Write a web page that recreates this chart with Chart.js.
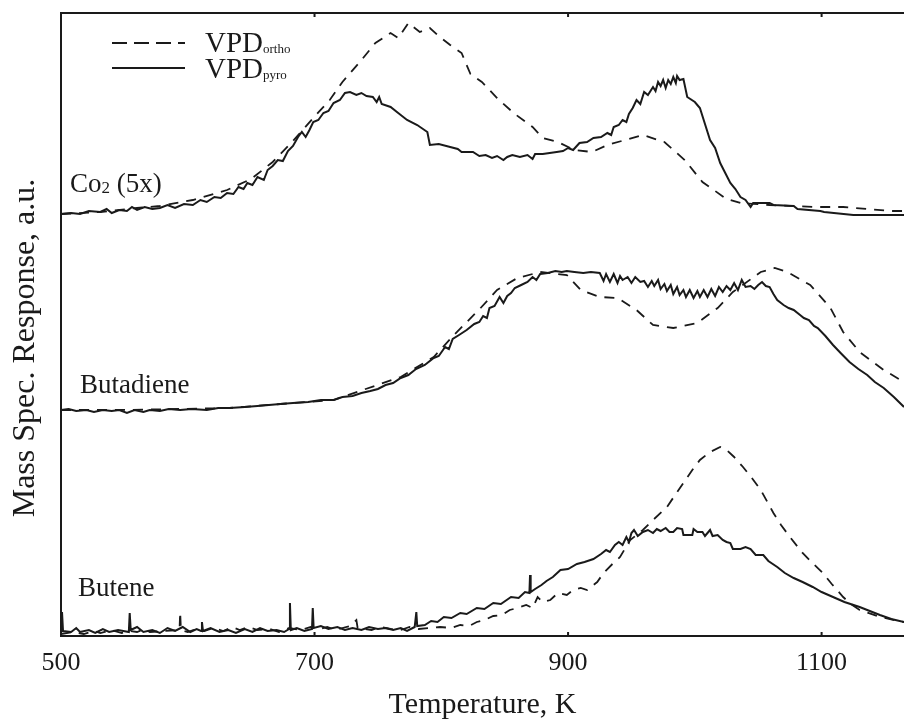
<!DOCTYPE html>
<html>
<head>
<meta charset="utf-8">
<title>Mass spec response vs temperature</title>
<script src="https://cdn.jsdelivr.net/npm/chart.js@4/dist/chart.umd.min.js"></script>
<style>
	html, body { margin: 0; padding: 0; background: #fff; }
	#tpdChart { display: block; }
</style>
</head>
<body>
<canvas id="tpdChart" width="904" height="719"></canvas>
<script>
//	Temperature axis, K
var tempMin = 500;
var tempMax = 1165;
var tempTicks = [500, 700, 900, 1100];

//	Traces: [temperature K, response a.u.]
//	CO2 (5x), shifted up
var co2Pyro = [[500,42.2],[508,42.3],[515,42.2],[522,42.5],[531,42.4],[536,42.7],[540,42.3],[546,42.6],[552,42.5],
	[556,42.9],[560,42.6],[566,42.9],[572,42.7],[578,42.8],[584,43.1],[590,42.8],[597,43.2],[604,43.1],[610,43.6],
	[615,43.4],[621,43.9],[626,43.8],[631,44.3],[636,44.2],[640,44.9],[644,44.7],[647,45.3],[651,45.1],[655,45.9],
	[660,45.6],[663,46.6],[667,47.0],[671,47.6],[675,47.5],[679,48.5],[683,49.0],[687,49.9],[690,50.4],[693,49.9],
	[696,50.6],[699,51.4],[703,51.6],[707,52.3],[711,52.5],[715,53.3],[720,53.6],[724,54.3],[728,54.4],[733,54.1],
	[737,54.3],[741,54.0],[746,53.9],[749,53.4],[751,53.9],[753,53.2],[760,52.9],[766,52.3],[773,51.6],[781,51.1],
	[789,50.4],[791,49.1],[798,49.2],[807,48.9],[813,48.7],[816,48.4],[825,48.4],[830,48.0],[835,48.1],[840,47.8],
	[844,48.0],[849,47.6],[852,47.9],[856,48.1],[862,47.9],[868,48.1],[872,47.7],[874,48.2],[880,48.2],[891,48.4],
	[896,48.5],[900,48.8],[904,48.6],[909,49.3],[915,49.4],[920,49.8],[926,49.9],[931,50.3],[934,50.1],[936,50.9],
	[940,51.1],[943,51.6],[946,51.4],[948,52.2],[951,52.8],[954,53.6],[957,53.2],[960,54.4],[963,54.1],[967,54.9],
	[969,54.5],[971,55.4],[973,55.0],[975,55.6],[977,54.8],[979,55.6],[981,55.2],[983,55.9],[985,55.3],[986,56.0],
	[988,55.6],[991,55.7],[994,53.9],[1000,53.4],[1004,52.8],[1008,51.2],[1012,49.6],[1016,48.8],[1020,47.3],
	[1024,46.3],[1028,45.3],[1032,44.7],[1036,43.9],[1040,43.6],[1044,42.9],[1046,43.3],[1059,43.3],[1062,43.1],
	[1078,43.0],[1081,42.7],[1099,42.5],[1102,42.4],[1125,42.1],[1165,42.1]];
var co2Ortho = [[500,42.2],[531,42.4],[560,42.8],[578,43.0],[604,43.6],[631,44.6],[650,45.7],[667,47.4],[683,49.5],
	[699,51.8],[712,53.6],[722,55.4],[737,57.6],[748,59.3],[760,60.3],[766,59.8],[774,61.3],[783,60.4],[791,60.8],
	[797,60.1],[807,59.1],[816,58.3],[823,56.2],[832,55.4],[844,53.8],[857,52.3],[872,50.9],[880,49.8],[892,49.4],
	[905,48.6],[919,48.4],[931,49.1],[945,49.6],[959,50.1],[976,49.4],[992,47.6],[1006,45.4],[1025,43.7],[1036,43.3],
	[1059,43.1],[1096,42.9],[1117,42.9],[1136,42.7],[1156,42.5],[1165,42.5]];

//	Butadiene, shifted up
var butadienePyro = [[500,22.6],[506,22.7],[512,22.5],[520,22.6],[526,22.4],[533,22.6],[540,22.5],[546,22.6],[552,22.3],
	[558,22.6],[565,22.4],[570,22.6],[578,22.5],[585,22.7],[594,22.6],[603,22.7],[615,22.6],[624,22.8],[633,22.8],
	[645,22.9],[655,23.0],[664,23.1],[673,23.2],[683,23.3],[695,23.4],[705,23.6],[715,23.6],[722,23.9],[730,24.0],
	[737,24.3],[744,24.5],[750,24.7],[756,25.1],[762,25.3],[768,25.8],[774,26.1],[780,26.7],[787,27.1],[794,27.8],
	[798,28.0],[803,28.9],[806,28.7],[809,29.7],[814,30.1],[820,30.6],[826,31.2],[830,31.4],[833,32.0],[836,31.8],
	[838,32.8],[842,33.0],[846,33.9],[849,33.3],[852,34.0],[855,34.3],[858,34.8],[863,35.1],[868,35.4],[872,35.9],
	[875,35.6],[878,36.2],[884,36.3],[890,36.5],[895,36.4],[899,36.5],[905,36.4],[912,36.3],[918,36.4],[925,36.3],
	[928,35.5],[930,36.2],[933,35.4],[936,36.2],[939,35.3],[941,36.0],[943,35.6],[947,35.9],[950,35.3],[953,35.9],
	[957,35.4],[960,35.5],[963,34.9],[966,35.5],[968,35.0],[971,35.6],[973,34.7],[976,35.2],[978,34.5],[981,35.1],
	[983,34.2],[986,34.9],[988,34.1],[991,34.6],[993,33.9],[996,34.6],[999,33.8],[1002,34.5],[1004,33.9],[1007,34.6],
	[1010,33.9],[1013,34.7],[1016,34.0],[1019,34.9],[1022,34.4],[1025,35.0],[1028,34.6],[1031,35.3],[1034,34.6],
	[1037,35.6],[1040,34.9],[1044,35.0],[1047,34.7],[1050,35.1],[1053,35.4],[1056,35.0],[1059,34.9],[1062,34.2],
	[1065,33.6],[1070,33.1],[1074,32.8],[1078,32.6],[1083,32.1],[1086,31.8],[1090,31.6],[1094,31.0],[1097,30.8],
	[1103,30.0],[1109,29.1],[1115,28.3],[1122,27.4],[1129,26.7],[1136,26.1],[1142,25.4],[1149,24.8],[1157,23.9],
	[1165,22.9]];
var butadieneOrtho = [[500,22.6],[546,22.6],[594,22.7],[633,22.8],[673,23.2],[715,23.6],[768,25.9],[794,27.9],[810,30.1],
	[831,32.8],[844,34.6],[860,35.8],[878,36.4],[899,36.1],[910,34.6],[925,33.9],[939,33.8],[954,32.6],[967,31.1],
	[983,30.8],[1002,31.3],[1018,32.8],[1030,34.4],[1052,36.4],[1063,36.8],[1073,36.4],[1091,35.1],[1107,32.8],
	[1117,30.4],[1130,28.4],[1149,26.6],[1165,25.4]];

//	Butene
var butenePyro = [[500,0.3],[500.8,2.4],[501.6,0.5],[508,0.4],[512,0.8],[515,0.4],[522,0.6],[527,0.3],[533,0.7],
	[538,0.4],[545,0.6],[553.5,0.4],[554.2,2.3],[555,0.6],[560,0.9],[565,0.4],[572,0.6],[578,0.3],[584,0.8],[590,0.5],
	[596,0.9],[602,0.4],[607,0.7],[610.5,0.5],[611.2,1.4],[612,0.5],[618,0.8],[625,0.4],[632,0.6],[638,0.3],[645,0.7],
	[651,0.4],[657,0.8],[663,0.5],[670,0.6],[676,0.4],[680,0.7],[680.6,3.3],[681.3,0.6],[686,0.8],[692,0.5],[698,0.7],
	[698.6,2.8],[699.3,0.8],[705,1.0],[711,0.7],[718,0.9],[724,0.6],[730,0.8],[737,0.6],[743,0.9],[750,0.7],[756,0.8],
	[762,0.6],[768,0.8],[773,0.5],[779,0.9],[780.3,2.4],[781,1.0],[787,1.1],[792,1.5],[797,1.4],[802,1.9],[808,1.8],
	[815,2.3],[820,2.2],[828,2.8],[834,2.7],[841,3.3],[847,3.2],[855,3.9],[861,3.8],[866,4.4],[869.5,4.3],[870,6.1],
	[870.5,4.4],[874,4.7],[879,5.1],[883,5.5],[888,5.9],[894,6.6],[900,6.7],[907,7.2],[913,7.4],[920,7.7],[926,8.2],
	[930,8.6],[933,8.4],[937,9.1],[940,9.4],[943,9.1],[946,9.9],[948,9.4],[950,10.3],[952,10.6],[955,10.0],[959,10.4],
	[963,10.6],[967,10.3],[970,10.7],[973,10.5],[977,10.8],[980,10.4],[983,10.4],[986,10.8],[990,10.7],[991,10.1],
	[998,10.1],[999,10.7],[1002,10.4],[1006,10.4],[1008,10.0],[1012,10.6],[1014,10.0],[1018,10.1],[1022,9.6],
	[1025,9.4],[1028,9.3],[1030,8.7],[1036,8.7],[1040,8.9],[1044,8.7],[1048,8.1],[1054,8.1],[1058,7.5],[1065,6.9],
	[1071,6.3],[1078,5.8],[1085,5.4],[1093,4.9],[1100,4.4],[1109,3.9],[1118,3.4],[1130,2.9],[1138,2.5],[1146,2.1],
	[1155,1.7],[1165,1.4]];
var buteneOrtho = [[500,0.2],[510,0.4],[518,0.2],[526,0.5],[531,0.3],[540,0.6],[548,0.3],[555,0.5],[560,0.4],[566,0.7],
	[570,0.4],[593.5,0.6],[594,2.4],[594.6,0.6],[600,0.4],[607,0.7],[613,0.5],[620,0.8],[628,0.5],[635,0.9],[641,0.6],
	[648,0.9],[655,0.6],[665,0.7],[672,0.4],[680,0.8],[689,0.6],[697,0.9],[704,0.7],[710,0.9],[717,0.6],[722,0.8],
	[728,1.0],[733,1.6],[734,0.8],[740,0.7],[745,0.6],[752,0.9],[760,0.7],[768,0.6],[775,0.9],[782,0.7],[790,0.8],
	[799,0.9],[808,0.8],[815,1.1],[822,1.0],[828,1.4],[834,1.6],[841,2.0],[848,2.1],[854,2.6],[860,2.8],[867,3.1],
	[872,2.8],[876,3.9],[880,3.4],[886,3.6],[892,4.3],[899,4.1],[904,4.6],[910,4.8],[915,4.6],[923,5.4],[928,6.3],
	[935,7.2],[941,7.9],[949,9.6],[959,10.6],[967,11.6],[978,12.9],[985,14.2],[991,15.3],[998,16.6],[1004,17.6],
	[1012,18.4],[1020,18.9],[1025,18.6],[1031,17.9],[1038,16.9],[1045,15.8],[1052,14.6],[1062,12.3],[1068,11.1],
	[1075,9.9],[1085,8.3],[1092,7.4],[1101,6.3],[1108,5.2],[1117,3.9],[1123,3.2],[1130,2.6],[1146,1.9],[1165,1.4]];

var serif = "'Liberation Serif', 'Times New Roman', serif";
var ink = "#1a1a1a";
var dashPattern = [10, 8];

function toPoints(pairs) {
	return pairs.map(function (p) { return { x: p[0], y: p[1] }; });
}

function makeSet(label, pairs, dashed) {
	return {
		label: label,
		data: toPoints(pairs),
		borderColor: ink,
		borderWidth: dashed ? 1.8 : 2,
		borderDash: dashed ? dashPattern : [],
		pointRadius: 0,
		tension: 0,
		fill: false
	};
}

/**
 *	Small inward tick marks on the bottom and top axes
 */
var inwardTicks = {
	id: 'inwardTicks',
	afterDatasetsDraw: function (chart) {
		var ctx = chart.ctx;
		var area = chart.chartArea;
		var xs = chart.scales.x;
		ctx.save();
		ctx.strokeStyle = ink;
		ctx.lineWidth = 2;
		tempTicks.forEach(function (t) {
			if (t === tempMin) return;
			var px = xs.getPixelForValue(t);
			ctx.beginPath();
			ctx.moveTo(px, area.bottom);
			ctx.lineTo(px, area.bottom - 4);
			ctx.moveTo(px, area.top);
			ctx.lineTo(px, area.top + 4);
			ctx.stroke();
		});
		ctx.restore();
	}
};

/**
 *	Trace labels, y title and the legend (with subscripts)
 */
var annotations = {
	id: 'annotations',
	afterDraw: function (chart) {
		var ctx = chart.ctx;
		ctx.save();
		ctx.fillStyle = ink;
		ctx.textBaseline = 'alphabetic';
		ctx.textAlign = 'left';

		//	Co2 (5x)
		var x = 70;
		ctx.font = '27px ' + serif;
		ctx.fillText('Co', x, 192);
		x += ctx.measureText('Co').width;
		ctx.font = '17px ' + serif;
		ctx.fillText('2', x, 193);
		x += ctx.measureText('2').width;
		ctx.font = '27px ' + serif;
		ctx.fillText(' (5x)', x, 192);

		ctx.fillText('Butadiene', 80, 393);
		ctx.fillText('Butene', 78, 596);

		//	Legend
		ctx.strokeStyle = ink;
		ctx.lineWidth = 2;
		ctx.setLineDash([15, 7]);
		ctx.beginPath();
		ctx.moveTo(112, 43);
		ctx.lineTo(185, 43);
		ctx.stroke();
		ctx.setLineDash([]);
		ctx.beginPath();
		ctx.moveTo(112, 68);
		ctx.lineTo(185, 68);
		ctx.stroke();

		ctx.font = '29px ' + serif;
		ctx.fillText('VPD', 205, 52);
		var w = ctx.measureText('VPD').width;
		ctx.fillText('VPD', 205, 78);
		ctx.font = '13px ' + serif;
		ctx.fillText('ortho', 205 + w, 53);
		ctx.fillText('pyro', 205 + w, 79);

		//	Y axis title
		ctx.translate(34, 348);
		ctx.rotate(-Math.PI / 2);
		ctx.textAlign = 'center';
		ctx.font = '32px ' + serif;
		ctx.fillText('Mass Spec. Response, a.u.', 0, 0);
		ctx.restore();
	}
};

var ctx = document.getElementById('tpdChart');
var tpdChart = new Chart(ctx, {
	type: 'line',
	data: {
		datasets: [
			makeSet('CO2 ortho', co2Ortho, true),
			makeSet('CO2 pyro', co2Pyro, false),
			makeSet('Butadiene ortho', butadieneOrtho, true),
			makeSet('Butadiene pyro', butadienePyro, false),
			makeSet('Butene ortho', buteneOrtho, true),
			makeSet('Butene pyro', butenePyro, false)
		]
	},
	options: {
		responsive: false,
		animation: false,
		layout: { padding: 0 },
		plugins: {
			legend: { display: false },
			tooltip: { enabled: false }
		},
		scales: {
			x: {
				type: 'linear',
				position: 'bottom',
				min: tempMin,
				max: tempMax,
				afterBuildTicks: function (scale) {
					scale.ticks = tempTicks.map(function (v) { return { value: v }; });
				},
				afterFit: function (scale) { scale.height = 83; },
				grid: { display: false, drawTicks: false },
				border: { display: true, color: ink, width: 2 },
				ticks: {
					color: ink,
					padding: 12,
					maxRotation: 0,
					font: { family: serif, size: 26 },
					callback: function (value) { return String(value); }
				},
				title: {
					display: true,
					text: 'Temperature, K',
					color: ink,
					padding: { top: 0, bottom: -4 },
					font: { family: serif, size: 30 }
				}
			},
			xTop: {
				type: 'linear',
				position: 'top',
				min: tempMin,
				max: tempMax,
				afterFit: function (scale) { scale.height = 13; },
				grid: { display: false, drawTicks: false },
				border: { display: true, color: ink, width: 2 },
				ticks: { display: false }
			},
			y: {
				min: 0,
				max: 62.3,
				afterFit: function (scale) { scale.width = 61; },
				grid: { display: false, drawTicks: false },
				border: { display: true, color: ink, width: 2 },
				ticks: { display: false }
			}
		}
	},
	plugins: [inwardTicks, annotations]
});
</script>
</body>
</html>
